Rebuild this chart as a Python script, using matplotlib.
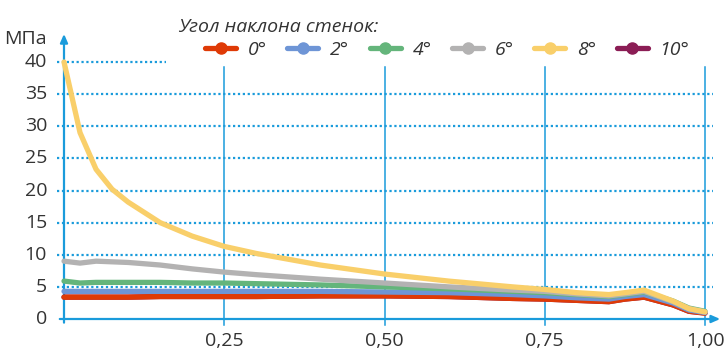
import matplotlib
matplotlib.use("Agg")
import matplotlib.pyplot as plt
from matplotlib.lines import Line2D

x = [0, 0.025, 0.05, 0.075, 0.1, 0.15, 0.2, 0.25, 0.3, 0.4, 0.5, 0.6, 0.7, 0.75, 0.8, 0.85, 0.875, 0.905, 0.95, 0.975, 1.0]
s10 = [3.4, 3.4, 3.4, 3.4, 3.4, 3.5, 3.5, 3.5, 3.5, 3.6, 3.6, 3.5, 3.2, 3.1, 2.9, 2.7, 3.1, 3.4, 2.2, 1.2, 0.95]
s0 = [3.4, 3.4, 3.4, 3.4, 3.4, 3.5, 3.5, 3.5, 3.5, 3.6, 3.6, 3.5, 3.2, 3.1, 2.9, 2.7, 3.1, 3.4, 2.2, 1.2, 0.9]
s2 = [4.3, 4.3, 4.3, 4.3, 4.3, 4.3, 4.3, 4.3, 4.3, 4.3, 4.2, 4.1, 3.8, 3.6, 3.3, 3.1, 3.5, 3.8, 2.5, 1.4, 1.0]
s4 = [5.9, 5.6, 5.7, 5.7, 5.7, 5.7, 5.6, 5.6, 5.5, 5.3, 5.0, 4.7, 4.3, 4.1, 3.8, 3.5, 3.8, 4.2, 2.8, 1.7, 1.2]
s6 = [9.0, 8.7, 9.0, 8.9, 8.8, 8.4, 7.8, 7.3, 6.9, 6.2, 5.6, 5.0, 4.5, 4.3, 3.9, 3.6, 3.9, 4.3, 2.7, 1.6, 1.1]
s8 = [40, 29, 23.3, 20.2, 18.2, 15.0, 12.9, 11.3, 10.2, 8.4, 7.0, 5.9, 5.0, 4.6, 4.1, 3.8, 4.1, 4.5, 2.8, 1.6, 1.1]

labels = ["0°", "2°", "4°", "6°", "8°", "10°"]
colors = ["#DF3A06", "#6E95D6", "#64B57B", "#B3B2B2", "#F9CF6A", "#8B1D55"]
yticks = [0, 5, 10, 15, 20, 25, 30, 35, 40]
ytick_labels = ["0", "5", "10", "15", "20", "25", "30", "35", "40"]
xticks = [0.25, 0.5, 0.75, 1.0]
xtick_labels = ["0,25", "0,50", "0,75", "1,00"]

plt.rcParams['font.family'] = ['Open Sans', 'DejaVu Sans']

W, H = 724, 354
fig = plt.figure(figsize=(W / 100, H / 100), dpi=100)
x0, x1 = 64, 705
y0, y1 = 319, 62
ppx = (x1 - x0)          # pixels per x unit
ppy = (y0 - y1) / 40.0   # pixels per MPa
ax = fig.add_axes([x0 / W, 1 - y0 / H, (x1 - x0) / W, (y0 - y1) / H])
ax.set_xlim(0, 1)
ax.set_ylim(0, 40)
for sp in ax.spines.values():
    sp.set_visible(False)
ax.set_xticks([])
ax.set_yticks([])

axc = "#1A9BDB"
txt = "#333333"

# horizontal dotted grid
for v in yticks[1:]:
    xe = 166 if v == 40 else 713
    ax.plot([-7 / ppx, (xe - x0) / ppx], [v, v], color=axc, lw=1.6, ls=(0, (1, 1.2)), clip_on=False, zorder=1)
# vertical grid
for v in xticks:
    ax.plot([v, v], [-6 / ppy, 39.2], color=axc, lw=1.1, clip_on=False, zorder=1)

# axes arrows
ax.annotate("", xy=(1.028, 0), xytext=(-7 / ppx, 0),
            arrowprops=dict(arrowstyle="-|>,head_length=0.5,head_width=0.22", color=axc, lw=1.6), annotation_clip=False)
ax.annotate("", xy=(0, 44.8), xytext=(0, -1.0),
            arrowprops=dict(arrowstyle="-|>,head_length=0.5,head_width=0.22", color=axc, lw=1.6), annotation_clip=False)

series = [s0, s2, s4, s6, s8, s10]
zorders = [4, 5, 6, 7, 8, 3]
for i in range(6):
    ax.plot(x, series[i], color=colors[i], lw=3.8, solid_capstyle='round', solid_joinstyle='round',
            clip_on=False, zorder=zorders[i], label=labels[i])

for v, l in zip(yticks, ytick_labels):
    ax.text(-17 / ppx, v, l, ha='right', va='center', fontsize=14, color=txt)
for v, l in zip(xticks, xtick_labels):
    ax.text(v, -13 / ppy, l, ha='center', va='top', fontsize=14, color=txt)
ax.text(-17 / ppx, 42.2, "МПа", ha='right', va='bottom', fontsize=14, color=txt)

fig.text(178 / W, 1 - 32 / H, "Угол наклона стенок:", fontsize=14, style='italic', color=txt, ha='left', va='baseline')

leg_handles = [Line2D([], [], color=colors[i], lw=3.8, marker='o', markersize=8, solid_capstyle='round') for i in range(6)]
leg = fig.legend(leg_handles, labels, ncol=6, frameon=False, loc='center left',
                 bbox_to_anchor=(205 / W, 1 - 50 / H), prop={'size': 14, 'style': 'italic'},
                 handlelength=1.6, handletextpad=0.6, columnspacing=1.05, borderaxespad=0, borderpad=0)
for t in leg.get_texts():
    t.set_color(txt)

fig.savefig("out.png", dpi=100)
